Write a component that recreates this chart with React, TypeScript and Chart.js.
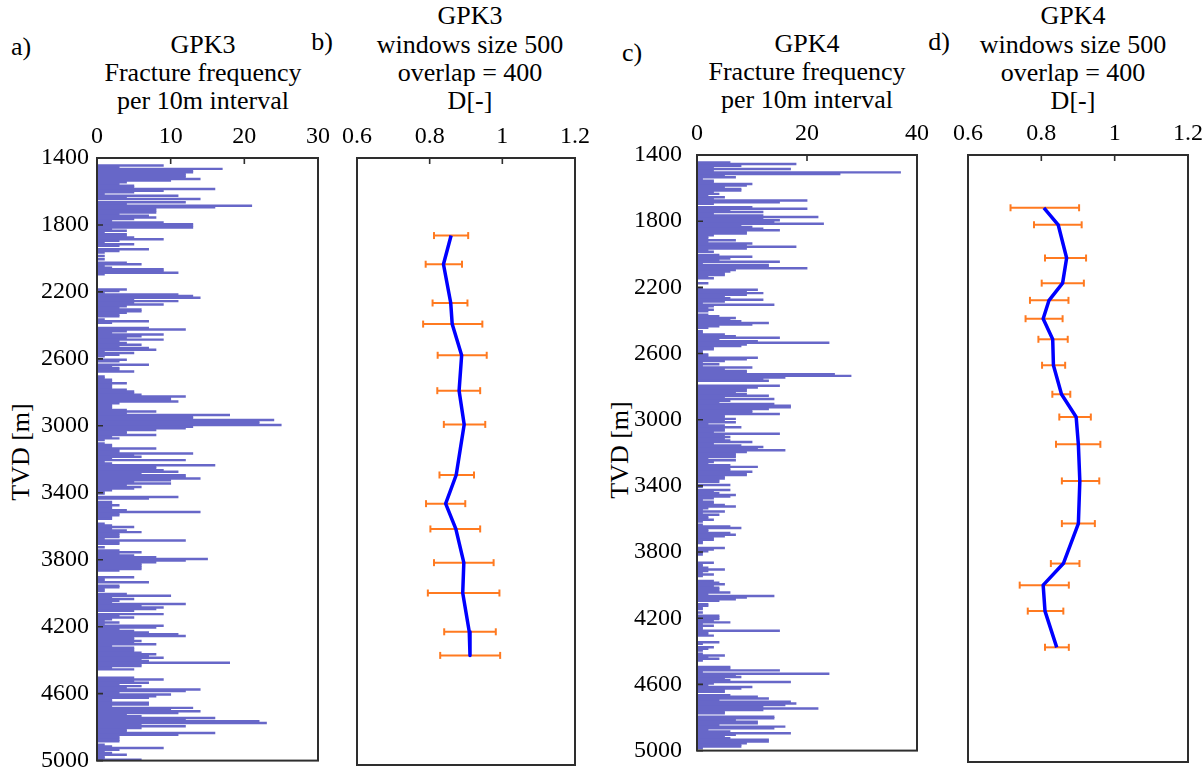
import React, { useEffect, useRef } from 'react';
import { Chart, registerables } from 'chart.js';

Chart.register(...registerables);

// ---------- data ----------
const DEPTH_START = 1400;
const DEPTH_END = 5000;
const DEPTH_STEP_TICK = 400;
const BIN = 10;

// GPK3 fracture frequency per 10 m interval (1400 -> 5000 m)
const GPK3_FREQ = [
  0,0,0,0,9,3,17,13,13,12, 12,12,14,10,4,3,5,5,16,9, 5,1,11,4,14,0,12,4,21,16,
  8,8,8,3,7,8,5,2,9,13, 13,13,2,4,1,4,4,5,9,3, 1,5,3,0,7,3,1,0,1,0,
  1,0,4,6,1,2,9,9,11,1, 0,0,0,0,0,0,0,0,4,3, 1,11,13,14,5,11,5,9,4,3,
  6,6,4,3,3,0,1,7,2,0, 0,7,12,4,2,9,6,4,9,3, 4,6,3,7,8,1,5,3,1,0,
  4,3,
  0,7,2,3,3,5,0,0,1,1, 2,2,4,2,2,2,4,5,5,6, 12,10,10,11,3,2,2,2,4,8,
  4,18,13,13,24,22,22,25,13,12, 8,4,4,8,2,3,1,0,1,2, 2,8,3,3,13,5,6,2,12,1,
  2,16,8,8,9,11,6,12,12,14, 10,5,10,4,6,5,2,
  1,1,0,11,7,0,2,2,3,2, 2,4,14,3,3,2,2,0,0,1, 2,5,2,4,6,3,3,3,1,12,
  3,3,0,1,0,3,6,3,5,8, 15,12,8,6,6,6,
  6,3,0,0,0,5,1,1,7,0, 3,3,1,1,0,4,10,2,5,3, 2,12,6,9,8,5,0,9,3,5,
  2,1,3,1,9,8,3,5,7,11, 12,5,5,6,5,8,2,5,5,5, 6,8,7,9,6,7,18,6,6,2,
  5,0,0,0,0,5,9,5,7,3, 6,4,14,12,3,10,8,7,2,2, 7,7,2,13,10,14,11,4,6,16,
  12,22,23,6,12,6,4,4,16,11, 3,3,3,3,0,1,2,9,3,1, 2,4,1,1,6,
];

// GPK4 fracture frequency per 10 m interval (1400 -> 5000 m)
const GPK4_FREQ = [
  0,0,0,0,6,18,8,3,17,3, 37,26,5,7,1,3,3,10,9,5, 8,8,3,4,2,5,3,20,15,3,
  0,10,20,6,12,3,12,22,12,15, 14,23,8,10,12,15,9,9,3,2, 2,7,2,10,9,18,9,2,3,0,
  4,10,6,4,15,1,13,13,20,7, 6,5,5,2,3,0,0,2,0,0, 1,11,9,12,9,5,6,12,5,1,
  14,3,2,3,2,0,2,4,7,6, 8,13,10,4,2,0,1,1,5,7, 15,4,11,24,9,8,3,3,1,1,
  2,
  2,11,9,5,1,4,1,10,5,9, 9,25,28,16,12,13,0,0,15,11, 9,9,7,9,13,5,14,6,4,14,
  17,17,13,10,10,15,5,5,7,5, 7,2,5,8,5,5,3,15,5,6, 5,6,10,3,8,12,11,16,9,7,
  7,7,2,7,3,2,6,11,6,6, 10,9,9,5,5,4,4,0,6,1, 0,6,3,4,7,6,3,1,3,3,
  5,7,2,1,5,1,4,2,2,3, 1,0,1,6,8,2,2,6,7,5, 3,3,1,1,0,0,5,3,2,1,
  1,0,
  0,0,0,3,1,1,2,5,2,1, 3,1,0,0,3,4,5,3,4,4, 4,6,2,14,9,7,4,0,2,2,
  1,1,0,1,0,4,4,4,3,6, 1,3,1,1,15,2,2,3,0,0, 0,4,1,0,3,2,1,0,1,5,
  2,4,1,0,0,0,6,6,15,1, 24,7,8,5,6,17,3,2,10,8, 5,5,0,6,11,13,4,17,18,16,
  12,22,12,5,5,0,14,14,7,11, 11,4,16,14,2,6,17,7,5,6, 13,13,9,8,8,1,0,
];

// GPK3 fractal dimension, window 500 / overlap 400
const GPK3_D_DEPTH = [1860, 2030, 2260, 2385, 2570, 2780, 2980, 3280, 3450, 3600, 3800, 3980, 4210, 4350];
const GPK3_D = [0.859, 0.838, 0.858, 0.862, 0.888, 0.881, 0.895, 0.873, 0.844, 0.872, 0.894, 0.891, 0.909, 0.911];
const GPK3_D_LO = [0.812, 0.789, 0.808, 0.782, 0.822, 0.821, 0.839, 0.827, 0.790, 0.802, 0.812, 0.795, 0.840, 0.829];
const GPK3_D_HI = [0.906, 0.889, 0.904, 0.945, 0.957, 0.939, 0.953, 0.922, 0.898, 0.939, 0.976, 0.992, 0.982, 0.994];

// GPK4 fractal dimension, window 500 / overlap 400
const GPK4_D_DEPTH = [1713, 1814, 2011, 2160, 2262, 2371, 2493, 2647, 2819, 2954, 3116, 3333, 3586, 3823, 3951, 4105, 4320];
const GPK4_D = [0.807, 0.846, 0.869, 0.858, 0.821, 0.805, 0.831, 0.833, 0.855, 0.895, 0.901, 0.905, 0.901, 0.860, 0.805, 0.810, 0.842];
const GPK4_D_LO = [0.716, 0.780, 0.810, 0.801, 0.769, 0.757, 0.792, 0.802, 0.830, 0.849, 0.840, 0.856, 0.856, 0.826, 0.741, 0.763, 0.810];
const GPK4_D_HI = [0.903, 0.910, 0.922, 0.916, 0.874, 0.858, 0.872, 0.865, 0.879, 0.935, 0.961, 0.958, 0.946, 0.904, 0.875, 0.860, 0.875];

// ---------- styles ----------
const FONT_FAMILY = "'Liberation Serif', 'Times New Roman', serif";
const TICK_FONT = { family: FONT_FAMILY, size: 24 };
const TEXT_SIZE = 26;
const LINE_H = 28.4;
const BAR_COLOR = 'rgb(103,103,200)';
const LINE_COLOR = '#0000ff';
const ERR_COLOR = 'rgb(255,122,32)';
const X_AXIS_H = 50;
const Y_AXIS_W = 80;

const framePlugin = {
  id: 'frame',
  afterDatasetsDraw(chart: any, _args: any, opts: any) {
    const { ctx, chartArea } = chart;
    const { left, right, top, bottom } = chartArea;
    ctx.save();
    ctx.strokeStyle = '#2e2e2e';
    ctx.lineWidth = 1.6;
    const xs = chart.scales.x;
    ctx.beginPath();
    xs.ticks.forEach((t: any) => {
      const px = xs.getPixelForValue(t.value);
      ctx.moveTo(px, top);
      ctx.lineTo(px, top + 6);
    });
    if (opts && opts.yTicks) {
      const ys = chart.scales.y;
      ys.ticks.forEach((t: any) => {
        const py = ys.getPixelForValue(t.value);
        ctx.moveTo(left, py);
        ctx.lineTo(left + 6, py);
      });
    }
    ctx.stroke();
    ctx.lineWidth = 2;
    ctx.strokeRect(left, top, right - left, bottom - top);
    ctx.restore();
  },
};

const yScale = (show: boolean, pad: number) => ({
  type: 'linear',
  display: show,
  reverse: true,
  min: DEPTH_START,
  max: DEPTH_END,
  offset: false,
  grid: { display: false, drawTicks: false, offset: false },
  border: { display: false },
  ticks: {
    stepSize: DEPTH_STEP_TICK,
    padding: pad,
    font: TICK_FONT,
    color: '#000',
    callback: (v: any) => String(v),
  },
  afterFit: (s: any) => {
    if (show) s.width = Y_AXIS_W;
  },
});

const xScale = (min: number, max: number, step: number) => ({
  type: 'linear',
  position: 'top',
  min,
  max,
  offset: false,
  grid: { display: false, drawTicks: false, offset: false },
  border: { display: false },
  ticks: {
    stepSize: step,
    padding: 7,
    font: TICK_FONT,
    color: '#000',
    callback: (v: any) => String(Math.round(v * 10) / 10),
  },
  afterFit: (s: any) => {
    s.height = X_AXIS_H;
  },
});

function barConfig(values: number[], xMax: number, xStep: number, yPad: number) {
  return {
    type: 'bar',
    data: {
      datasets: [
        {
          data: values.map((v, i) => ({ x: v, y: DEPTH_START + BIN * i + BIN / 2 })),
          backgroundColor: BAR_COLOR,
          borderWidth: 0,
          barPercentage: 1,
          categoryPercentage: 1,
          inflateAmount: 0.4,
        },
      ],
    },
    options: {
      indexAxis: 'y',
      animation: false,
      responsive: false,
      events: [],
      layout: { padding: { left: 0, right: 22, top: 0, bottom: 18 } },
      plugins: { legend: { display: false }, tooltip: { enabled: false }, frame: { yTicks: true } },
      scales: { x: xScale(0, xMax, xStep), y: yScale(true, yPad) },
    },
    plugins: [framePlugin],
  };
}

function dConfig(depths: number[], d: number[], lo: number[], hi: number[]) {
  const errSets = depths.map((dep, i) => ({
    data: [
      { x: lo[i], y: dep },
      { x: hi[i], y: dep },
    ],
    showLine: true,
    borderColor: ERR_COLOR,
    borderWidth: 2,
    pointStyle: 'line',
    pointRotation: 90,
    pointRadius: 3.5,
    pointBorderColor: ERR_COLOR,
    pointBackgroundColor: ERR_COLOR,
    pointBorderWidth: 2,
  }));
  return {
    type: 'scatter',
    data: {
      datasets: [
        {
          data: depths.map((dep, i) => ({ x: d[i], y: dep })),
          showLine: true,
          borderColor: LINE_COLOR,
          borderWidth: 3.5,
          pointRadius: 0,
          borderJoinStyle: 'round',
        },
        ...errSets,
      ],
    },
    options: {
      animation: false,
      responsive: false,
      events: [],
      layout: { padding: { left: 22, right: 22, top: 0, bottom: 18 } },
      plugins: { legend: { display: false }, tooltip: { enabled: false }, frame: { yTicks: false } },
      scales: { x: xScale(0.6, 1.2, 0.2), y: yScale(false, 0) },
    },
    plugins: [framePlugin],
  };
}

function ChartBox(props: { config: any; left: number; top: number; width: number; height: number }) {
  const ref = useRef<HTMLCanvasElement | null>(null);
  useEffect(() => {
    if (!ref.current) return;
    const chart = new Chart(ref.current, props.config);
    return () => chart.destroy();
  }, []);
  return (
    <canvas
      ref={ref}
      width={props.width}
      height={props.height}
      style={{ position: 'absolute', left: props.left, top: props.top, width: props.width, height: props.height }}
    />
  );
}

const textStyle: any = {
  position: 'absolute',
  fontFamily: FONT_FAMILY,
  fontSize: TEXT_SIZE,
  color: '#000',
  lineHeight: LINE_H + 'px',
  whiteSpace: 'nowrap',
};

// y = vertical centre of the capitals of the first line
function Title(props: { lines: string[]; cx: number; y: number }) {
  return (
    <div style={{ ...textStyle, left: props.cx - 150, width: 300, top: props.y - 14.4, textAlign: 'center' }}>
      {props.lines.map((l, i) => (
        <div key={i}>{l}</div>
      ))}
    </div>
  );
}

function Label(props: { text: string; cx: number; cy: number; rotate?: boolean }) {
  return (
    <div
      style={{
        ...textStyle,
        left: props.cx,
        top: props.cy,
        transform: `translate(-50%, -50%)${props.rotate ? ' rotate(-90deg)' : ''}`,
      }}
    >
      {props.text}
    </div>
  );
}

const PLOT_H = 607;

export default function App() {
  return (
    <div style={{ position: 'fixed', left: 0, top: 0, width: 1204, height: 776, overflow: 'hidden', background: '#fff' }}>
      <Label text="a)" cx={21} cy={47} />
      <Title lines={['GPK3', 'Fracture frequency', 'per 10m interval']} cx={203} y={45} />
      <Label text="b)" cx={322} cy={42} />
      <Title lines={['GPK3', 'windows size 500', 'overlap = 400', 'D[-]']} cx={470} y={16.5} />
      <Label text="c)" cx={632} cy={53} />
      <Title lines={['GPK4', 'Fracture frequency', 'per 10m interval']} cx={807} y={44} />
      <Label text="d)" cx={939} cy={42} />
      <Title lines={['GPK4', 'windows size 500', 'overlap = 400', 'D[-]']} cx={1073} y={16.5} />
      <Label text="TVD [m]" cx={21} cy={452} rotate />
      <Label text="TVD [m]" cx={620} cy={450} rotate />

      <ChartBox config={barConfig(GPK3_FREQ, 30, 10, 8)} left={97 - Y_AXIS_W} top={158 - X_AXIS_H} width={Y_AXIS_W + 221 + 22} height={X_AXIS_H + PLOT_H + 18} />
      <ChartBox config={dConfig(GPK3_D_DEPTH, GPK3_D, GPK3_D_LO, GPK3_D_HI)} left={357 - 22} top={158 - X_AXIS_H} width={22 + 218 + 22} height={X_AXIS_H + PLOT_H + 18} />
      <ChartBox config={barConfig(GPK4_FREQ, 40, 20, 15)} left={697 - Y_AXIS_W} top={155 - X_AXIS_H} width={Y_AXIS_W + 220 + 22} height={X_AXIS_H + PLOT_H + 18} />
      <ChartBox config={dConfig(GPK4_D_DEPTH, GPK4_D, GPK4_D_LO, GPK4_D_HI)} left={968 - 22} top={155 - X_AXIS_H} width={22 + 220 + 22} height={X_AXIS_H + PLOT_H + 18} />
    </div>
  );
}
